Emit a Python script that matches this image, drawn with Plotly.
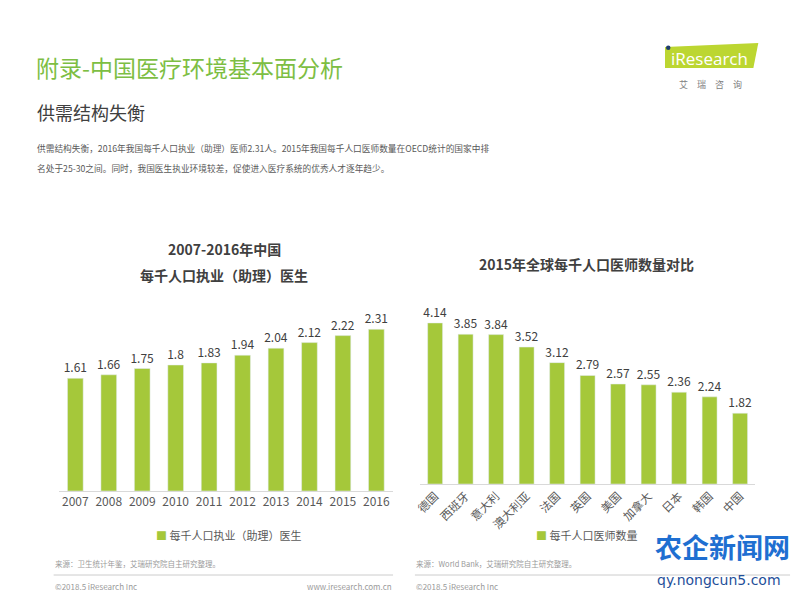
import plotly.graph_objects as go

years = ["2007", "2008", "2009", "2010", "2011", "2012", "2013", "2014", "2015", "2016"]
china_doctors = [1.61, 1.66, 1.75, 1.8, 1.83, 1.94, 2.04, 2.12, 2.22, 2.31]

countries = ["德国", "西班牙", "意大利", "澳大利亚", "法国", "英国", "美国", "加拿大", "日本", "韩国", "中国"]
country_doctors = [4.14, 3.85, 3.84, 3.52, 3.12, 2.79, 2.57, 2.55, 2.36, 2.24, 1.82]

left_series = "每千人口执业（助理）医生"
right_series = "每千人口医师数量"

FONT = "Noto Sans CJK SC"
GREEN = "#a5c83a"
W, H = 800, 600


def px(x):
    return x / W


def py(y):
    return 1 - y / H


fig = go.Figure()
fig.add_trace(go.Bar(
    x=years, y=china_doctors, name=left_series, marker_color=GREEN,
    width=0.47, text=[f"{v:g}" for v in china_doctors], textposition="outside",
    constraintext="none",
    textfont=dict(size=12, color="#404040"), cliponaxis=False,
    xaxis="x", yaxis="y", hoverinfo="skip",
))
fig.add_trace(go.Bar(
    x=countries, y=country_doctors, name=right_series, marker_color=GREEN,
    width=0.49, text=[f"{v:g}" for v in country_doctors], textposition="outside",
    constraintext="none",
    textfont=dict(size=12, color="#404040"), cliponaxis=False,
    xaxis="x2", yaxis="y2", hoverinfo="skip",
))

axis_common = dict(showgrid=False, zeroline=False, showline=True, linecolor="#d9d9d9",
                   linewidth=1, ticks="", fixedrange=True)
yaxis_common = dict(showgrid=False, zeroline=False, showline=False, showticklabels=False,
                    fixedrange=True)

fig.update_layout(
    width=W, height=H, margin=dict(l=0, r=0, t=0, b=0),
    paper_bgcolor="white", plot_bgcolor="white",
    font=dict(family=FONT, color="#404040"),
    xaxis=dict(domain=[px(53), px(390)], anchor="y",
               tickfont=dict(size=12, color="#595959", family=FONT), **axis_common),
    yaxis=dict(domain=[py(491), py(281)], range=[0, 3], anchor="x", **yaxis_common),
    xaxis2=dict(domain=[px(417), px(755)], anchor="y2", tickangle=-45,
                tickfont=dict(size=11.5, color="#595959", family=FONT), **axis_common),
    yaxis2=dict(domain=[py(484), py(289.5)], range=[0, 5], anchor="x2", **yaxis_common),
    showlegend=False,
)


def note(text, x, y, size, color, bold=False, xanchor="left", family=FONT):
    fig.add_annotation(
        text=f"<b>{text}</b>" if bold else text, x=px(x), y=py(y),
        xref="paper", yref="paper", showarrow=False, xanchor=xanchor, yanchor="middle",
        font=dict(size=size, color=color, family=family), borderpad=0,
    )


# Page header
note("附录-中国医疗环境基本面分析", 29, 67, 23, "#7dbe43")
note("供需结构失衡", 30, 112, 18, "#404040")
note("供需结构失衡，2016年我国每千人口执业（助理）医师2.31人。2015年我国每千人口医师数量在OECD统计的国家中排",
     30, 148, 8.7, "#595959")
note("名处于25-30之间。同时，我国医生执业环境较差，促使进入医疗系统的优秀人才逐年趋少。",
     30, 168, 8.7, "#595959")

# Logo
fig.add_shape(type="path", path=f"M {px(664)} {py(47)} L {px(758)} {py(43)} L {px(753)} {py(68)} L {px(664)} {py(68)} Z",
              xref="paper", yref="paper", fillcolor="#bcd631", line=dict(width=0))
note("iResearch", 709, 58, 17, "white", xanchor="center", family="Open Sans")
fig.add_shape(type="circle", x0=px(665), x1=px(669.5), y0=py(50), y1=py(45.5),
              xref="paper", yref="paper", fillcolor="#1f3c6e", line=dict(width=0))
note("艾　瑞　咨　询", 710, 84, 9, "#808080", xanchor="center")

# Chart titles
note("2007-2016年中国", 220, 249, 14, "#404040", bold=True, xanchor="center")
note("每千人口执业（助理）医生", 220, 275, 14, "#404040", bold=True, xanchor="center")
note("2015年全球每千人口医师数量对比", 585, 264, 14, "#404040", bold=True, xanchor="center")

# Legends (swatch + label)
note(f"<span style='color:{GREEN}'>■</span> {left_series}", 224, 535, 11, "#595959", xanchor="center")
note(f"<span style='color:{GREEN}'>■</span> {right_series}", 585, 535, 11, "#595959", xanchor="center")

# Footers
note("来源：卫生统计年鉴，艾瑞研究院自主研究整理。", 48, 563, 7.5, "#9a9a9a")
note("©2018.5 iResearch Inc", 48, 586, 8, "#9a9a9a")
note("www.iresearch.com.cn", 390, 586, 8, "#9a9a9a", xanchor="right")
note("来源：World Bank，艾瑞研究院自主研究整理。", 412, 563, 7.5, "#9a9a9a")
note("©2018.5 iResearch Inc", 412, 586, 8, "#9a9a9a")
for x0, x1 in [(48, 390), (412, 790)]:
    fig.add_shape(type="line", x0=px(x0), x1=px(x1), y0=py(575), y1=py(575),
                  xref="paper", yref="paper", line=dict(color="#cccccc", width=1))

# Watermark
note("农企新闻网", 722, 546, 27, "#1f6fd1", bold=True, xanchor="center")
note("qy.nongcun5.com", 718, 580, 14, "#1f4f9a", xanchor="center", family="DejaVu Sans")

fig.write_html("out.html", config={"displayModeBar": False},
               post_script="document.body.style.margin='0px';document.body.style.overflow='hidden';")
